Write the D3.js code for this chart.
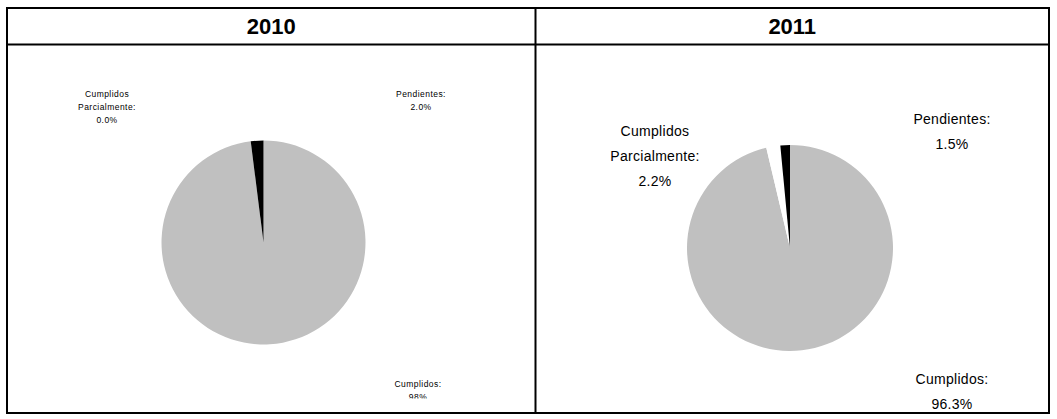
<!DOCTYPE html>
<html>
<head>
<meta charset="utf-8">
<script src="https://cdn.jsdelivr.net/npm/d3@7"></script>
<style>
  body { margin: 0; background: #fff; }
  svg { display: block; font-family: "Liberation Sans", Arial, sans-serif; }
</style>
</head>
<body>
<div id="chart"></div>
<script>
// data
var years = ["2010", "2011"];
var categories = ["Cumplidos", "Cumplidos Parcialmente", "Pendientes"];
var values2010 = [98.0, 0.0, 2.0];
var values2011 = [96.3, 2.2, 1.5];
var labels2010 = ["98%", "0.0%", "2.0%"];
var labels2011 = ["96.3%", "2.2%", "1.5%"];
var sliceColors = ["#c0c0c0", "#ffffff", "#000000"];

var width = 1057, height = 419;

var svg = d3.select("#chart")
	.append("svg")
	.attr("width", width)
	.attr("height", height);

// table frame
var tbl = {left: 7, mid: 535.5, right: 1049, top: 8, head: 44.5, bottom: 413};
var frame = svg.append("g")
	.attr("stroke", "#000")
	.attr("stroke-width", 2)
	.attr("fill", "none");
frame.append("rect")
	.attr("x", tbl.left).attr("y", tbl.top)
	.attr("width", tbl.right - tbl.left)
	.attr("height", tbl.bottom - tbl.top);
frame.append("line")
	.attr("x1", tbl.left).attr("x2", tbl.right)
	.attr("y1", tbl.head).attr("y2", tbl.head);
frame.append("line")
	.attr("x1", tbl.mid).attr("x2", tbl.mid)
	.attr("y1", tbl.top).attr("y2", tbl.bottom);

// year headers
var cols = [[tbl.left, tbl.mid], [tbl.mid, tbl.right]];
svg.selectAll("text.year")
	.data(years)
	.enter().append("text")
	.attr("class", "year")
	.attr("x", function(d, i) { return (cols[i][0] + cols[i][1]) / 2; })
	.attr("y", 34)
	.attr("text-anchor", "middle")
	.attr("font-size", 22)
	.attr("font-weight", "bold")
	.text(function(d) { return d; });

var pie = d3.pie().sort(null).value(function(d) { return d; });

// panel settings: centre, radius, label placement
var panels = [
	{
		values: values2010, labels: labels2010, cx: 263.5, cy: 242.5, r: 102,
		fontSize: 8.5, spacing: 0.45, lineH: 13,
		clipBottom: 398.5,
		labelPos: [[418, 387], [107, 97], [421, 97]],
		names: [["Cumplidos:"], ["Cumplidos", "Parcialmente:"], ["Pendientes:"]]
	},
	{
		values: values2011, labels: labels2011, cx: 790, cy: 248, r: 103,
		fontSize: 14, spacing: 0.3, lineH: 25,
		clipBottom: 412,
		labelPos: [[952, 384], [655, 136], [952, 124]],
		names: [["Cumplidos:"], ["Cumplidos", "Parcialmente:"], ["Pendientes:"]]
	}
];

panels.forEach(function(p, pi) {
	var clipId = "clip" + pi;
	svg.append("clipPath").attr("id", clipId)
		.append("rect")
		.attr("x", cols[pi][0]).attr("y", tbl.head)
		.attr("width", cols[pi][1] - cols[pi][0])
		.attr("height", p.clipBottom - tbl.head);

	var g = svg.append("g").attr("clip-path", "url(#" + clipId + ")");

	var arc = d3.arc().innerRadius(0).outerRadius(p.r);
	g.append("g")
		.attr("transform", "translate(" + p.cx + "," + p.cy + ")")
		.selectAll("path")
		.data(pie(p.values))
		.enter().append("path")
		.attr("d", arc)
		.attr("fill", function(d, i) { return sliceColors[i]; });

	// data labels
	var lab = g.selectAll("text.lab")
		.data(categories)
		.enter().append("text")
		.attr("class", "lab")
		.attr("text-anchor", "middle")
		.attr("font-size", p.fontSize)
		.attr("letter-spacing", p.spacing)
		.attr("fill", "#000");
	lab.each(function(d, i) {
		var t = d3.select(this);
		var lines = p.names[i].concat([p.labels[i]]);
		lines.forEach(function(s, k) {
			t.append("tspan")
				.attr("x", p.labelPos[i][0])
				.attr("y", p.labelPos[i][1] + k * p.lineH)
				.text(s);
		});
	});
});
</script>
</body>
</html>
